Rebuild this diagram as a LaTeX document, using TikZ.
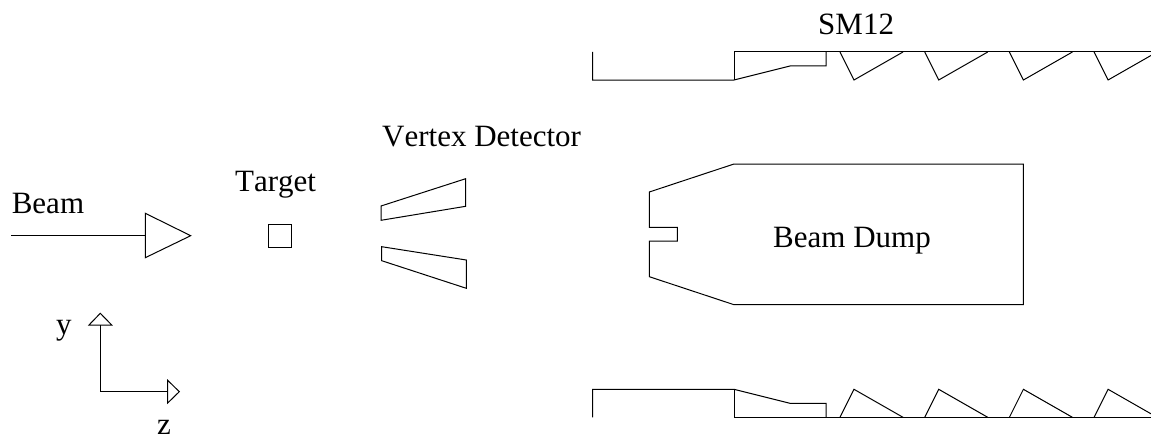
\documentclass[tikz,border=0pt]{standalone}
\usepackage{fontspec}
\setmainfont[Kerning=Off]{Liberation Serif}
\tikzset{
  lbl/.style={anchor=base west,inner sep=0pt,font=\fontsize{31}{36}\selectfont},
  part/.style={draw=black,line width=1pt,line join=miter}
}
\begin{document}
\begin{tikzpicture}[x=1pt,y=-1pt]
\clip (0,0) rectangle (1151,436);
\node [lbl] (beamlabel) at (11.6,213) {Beam};
\node [lbl] (targetlabel) at (235,191.5) {Target};
\node [lbl] (vertexlabel) at (382,146.7) {Vertex Detector};
\node [lbl] (smlabel) at (818,35) {SM12};
\node [lbl,anchor=base] (dumplabel) at (852,247.3) {Beam Dump};
\node [lbl] (ylabel) at (56,334) {y};
\node [lbl,anchor=base] (zlabel) at (164,434.5) {z};
\node [part,minimum size=23pt,inner sep=0pt] (target) at (280,235.5) {};
\coordinate (beamstart) at (11.3,235.7);
\coordinate (beamend) at (145.3,235.7);
\coordinate (origin) at (100.3,391.7);
\coordinate (yend) at (100.3,325);
\coordinate (zend) at (167.7,391.7);
\draw [part] (beamstart) -- (beamend);
\draw [part] (145.3,213.3) -- (190.7,235.7) -- (145.3,257.7) -- cycle;
\draw [part] (yend) -- (origin) -- (zend);
\draw [part] (89,325) -- (100.3,313.3) -- (111.7,325) -- cycle;
\draw [part] (167.7,380.3) -- (179.3,391.7) -- (167.7,403) -- cycle;
% vertex detector
\draw [part] (381,206) -- (465.7,178.7) -- (465.7,206.3) -- (381,220.3) -- cycle;
\draw [part] (381.7,246.7) -- (466.3,260) -- (466.3,288.3) -- (381.7,260.7) -- cycle;
% beam dump
\draw [part] (734,164) -- (1023.3,164) -- (1023.3,304.7) -- (734,304.7) -- (649.3,276.7)
  -- (649.3,241) -- (677.3,241) -- (677.3,227.3) -- (649.3,227.3) -- (649.3,192) -- cycle;
% magnet, top
\draw [part] (592.7,52) -- (592.7,80) -- (734,80) -- (790,66) -- (826,66) -- (826,52);
\draw [part] (734,80) -- (734,52) -- (1151,52);
\foreach \x in {840,924.7,1009.4,1094.1} {
  \draw [part] (\x,52) -- (\x+14,80) -- (\x+63,52);
}
% magnet, bottom
\draw [part] (592.7,417.3) -- (592.7,389.3) -- (734,389.3) -- (790,403.3) -- (826,403.3) -- (826,417.3);
\draw [part] (734,389.3) -- (734,417.3) -- (1151,417.3);
\foreach \x in {840,924.7,1009.4,1094.1} {
  \draw [part] (\x,417.3) -- (\x+14,389.3) -- (\x+63,417.3);
}
\end{tikzpicture}
\end{document}
